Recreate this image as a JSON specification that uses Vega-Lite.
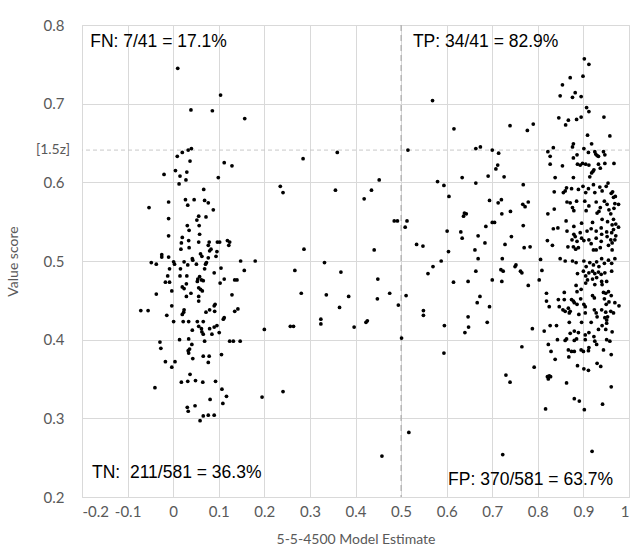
{
  "$schema": "https://vega.github.io/schema/vega-lite/v6.json",
  "width": 547,
  "height": 472,
  "autosize": {"type": "none"},
  "padding": {"left": 82, "top": 25, "right": 6, "bottom": 60},
  "background": "white",
  "config": {
    "view": {"stroke": "#d9d9d9"},
    "axis": {"labelFont": "Lato", "titleFont": "Lato", "labelColor": "#595959", "titleColor": "#595959", "labelFontSize": 15, "titleFontSize": 14, "titleFontWeight": "normal", "gridColor": "#d9d9d9", "gridWidth": 1, "domain": false, "ticks": false}
  },
  "datasets": {
    "pts": [
{"x":0.010,"y":0.745},{"x":0.104,"y":0.711},{"x":0.039,"y":0.692},{"x":0.086,"y":0.691},{"x":0.157,"y":0.681},{"x":0.033,"y":0.641},{"x":0.040,"y":0.643},{"x":0.020,"y":0.638},{"x":0.009,"y":0.633},{"x":0.037,"y":0.627},{"x":0.112,"y":0.625},{"x":0.129,"y":0.621},{"x":-0.020,"y":0.610},{"x":0.005,"y":0.615},{"x":0.015,"y":0.608},{"x":0.030,"y":0.613},{"x":0.028,"y":0.603},{"x":0.099,"y":0.606},{"x":0.013,"y":0.598},{"x":0.067,"y":0.591},{"x":-0.053,"y":0.568},{"x":-0.010,"y":0.575},{"x":0.027,"y":0.578},{"x":0.032,"y":0.571},{"x":0.046,"y":0.578},{"x":0.069,"y":0.577},{"x":0.077,"y":0.574},{"x":0.088,"y":0.565},{"x":-0.010,"y":0.554},{"x":0.056,"y":0.557},{"x":0.052,"y":0.552},{"x":0.072,"y":0.556},{"x":0.057,"y":0.545},{"x":0.031,"y":0.545},{"x":0.035,"y":0.539},{"x":-0.010,"y":0.532},{"x":0.058,"y":0.534},{"x":0.020,"y":0.530},{"x":0.018,"y":0.523},{"x":0.034,"y":0.526},{"x":0.056,"y":0.524},{"x":0.079,"y":0.524},{"x":0.077,"y":0.520},{"x":0.097,"y":0.524},{"x":0.102,"y":0.524},{"x":0.119,"y":0.526},{"x":0.124,"y":0.524},{"x":0.122,"y":0.520},{"x":0.017,"y":0.515},{"x":0.035,"y":0.517},{"x":0.060,"y":0.509},{"x":0.083,"y":0.515},{"x":0.080,"y":0.513},{"x":0.096,"y":0.512},{"x":-0.025,"y":0.508},{"x":-0.025,"y":0.505},{"x":-0.010,"y":0.505},{"x":0.042,"y":0.503},{"x":0.063,"y":0.506},{"x":0.077,"y":0.504},{"x":0.094,"y":0.506},
{"x":-0.048,"y":0.498},{"x":-0.037,"y":0.496},{"x":0.001,"y":0.499},{"x":0.003,"y":0.496},{"x":0.016,"y":0.490},{"x":0.024,"y":0.499},{"x":0.032,"y":0.495},{"x":0.043,"y":0.501},{"x":0.051,"y":0.496},{"x":0.071,"y":0.496},{"x":0.073,"y":0.498},{"x":0.069,"y":0.490},{"x":0.090,"y":0.485},{"x":0.105,"y":0.491},{"x":0.148,"y":0.500},{"x":0.156,"y":0.488},{"x":-0.008,"y":0.490},{"x":-0.012,"y":0.481},{"x":-0.017,"y":0.473},{"x":-0.008,"y":0.473},{"x":-0.003,"y":0.462},{"x":-0.037,"y":0.458},{"x":0.015,"y":0.481},{"x":0.030,"y":0.481},{"x":0.029,"y":0.471},{"x":0.020,"y":0.467},{"x":0.024,"y":0.465},{"x":0.039,"y":0.459},{"x":0.029,"y":0.455},{"x":0.053,"y":0.474},{"x":0.054,"y":0.477},{"x":0.058,"y":0.480},{"x":0.062,"y":0.476},{"x":0.056,"y":0.466},{"x":0.060,"y":0.464},{"x":0.064,"y":0.462},{"x":0.056,"y":0.449},{"x":0.056,"y":0.455},{"x":0.066,"y":0.475},{"x":0.112,"y":0.477},{"x":0.103,"y":0.472},{"x":0.135,"y":0.476},{"x":0.140,"y":0.476},{"x":0.129,"y":0.457},{"x":-0.071,"y":0.437},{"x":-0.055,"y":0.437},{"x":-0.014,"y":0.431},{"x":-0.003,"y":0.443},{"x":0.020,"y":0.432},{"x":0.023,"y":0.435},{"x":0.024,"y":0.438},{"x":0.001,"y":0.423},{"x":0.022,"y":0.423},{"x":0.034,"y":0.423},{"x":0.042,"y":0.412},{"x":0.053,"y":0.423},{"x":0.056,"y":0.417},{"x":0.062,"y":0.414},{"x":0.063,"y":0.410},{"x":0.066,"y":0.407},{"x":0.066,"y":0.423},{"x":0.072,"y":0.435},{"x":0.080,"y":0.438},{"x":0.090,"y":0.443},{"x":0.092,"y":0.445},{"x":0.091,"y":0.436},{"x":0.080,"y":0.414},{"x":0.090,"y":0.416},{"x":0.096,"y":0.418},{"x":0.101,"y":0.409},{"x":0.085,"y":0.407},{"x":0.110,"y":0.426},{"x":0.112,"y":0.428},{"x":0.135,"y":0.436},{"x":0.142,"y":0.439},{"x":-0.029,"y":0.397},{"x":-0.027,"y":0.389},{"x":0.014,"y":0.400},{"x":0.034,"y":0.401},{"x":0.041,"y":0.394},{"x":0.033,"y":0.386},{"x":0.034,"y":0.383},{"x":0.036,"y":0.388},{"x":0.043,"y":0.376},{"x":0.069,"y":0.398},{"x":0.066,"y":0.379},{"x":0.079,"y":0.379},{"x":0.077,"y":0.371},{"x":0.106,"y":0.381},{"x":0.124,"y":0.398},{"x":0.132,"y":0.398},{"x":0.147,"y":0.398},{"x":-0.017,"y":0.372},{"x":0.004,"y":0.372},{"x":-0.003,"y":0.365},{"x":0.037,"y":0.356},{"x":0.018,"y":0.346},{"x":0.032,"y":0.347},{"x":0.049,"y":0.348},{"x":0.065,"y":0.346},{"x":0.093,"y":0.347},{"x":-0.040,"y":0.339},{"x":0.107,"y":0.337},{"x":0.117,"y":0.328},{"x":0.081,"y":0.324},{"x":0.109,"y":0.319},{"x":0.031,"y":0.314},{"x":0.033,"y":0.309},{"x":0.048,"y":0.316},{"x":0.059,"y":0.297},{"x":0.066,"y":0.303},{"x":0.077,"y":0.304},{"x":0.090,"y":0.304},
{"x":0.515,"y":0.641},{"x":0.360,"y":0.638},{"x":0.285,"y":0.630},{"x":0.452,"y":0.603},{"x":0.235,"y":0.595},{"x":0.241,"y":0.587},{"x":0.356,"y":0.590},{"x":0.435,"y":0.590},{"x":0.419,"y":0.579},{"x":0.485,"y":0.551},{"x":0.492,"y":0.551},{"x":0.513,"y":0.551},{"x":0.509,"y":0.543},{"x":0.287,"y":0.515},{"x":0.441,"y":0.514},{"x":0.180,"y":0.500},{"x":0.332,"y":0.498},{"x":0.267,"y":0.488},{"x":0.368,"y":0.486},{"x":0.449,"y":0.477},{"x":0.281,"y":0.459},{"x":0.336,"y":0.457},{"x":0.385,"y":0.455},{"x":0.475,"y":0.459},{"x":0.511,"y":0.456},{"x":0.448,"y":0.452},{"x":0.365,"y":0.441},{"x":0.494,"y":0.444},{"x":0.324,"y":0.426},{"x":0.324,"y":0.420},{"x":0.257,"y":0.417},{"x":0.264,"y":0.417},{"x":0.200,"y":0.413},{"x":0.397,"y":0.416},{"x":0.423,"y":0.422},{"x":0.426,"y":0.424},{"x":0.501,"y":0.402},{"x":0.195,"y":0.327},{"x":0.241,"y":0.334},{"x":0.517,"y":0.282},{"x":0.458,"y":0.252},
{"x":0.569,"y":0.704},{"x":0.616,"y":0.668},{"x":0.739,"y":0.672},{"x":0.777,"y":0.666},{"x":0.664,"y":0.643},{"x":0.674,"y":0.645},{"x":0.700,"y":0.641},{"x":0.714,"y":0.637},{"x":0.712,"y":0.622},{"x":0.708,"y":0.617},{"x":0.691,"y":0.608},{"x":0.634,"y":0.606},{"x":0.726,"y":0.607},{"x":0.580,"y":0.601},{"x":0.594,"y":0.596},{"x":0.664,"y":0.599},{"x":0.605,"y":0.582},{"x":0.694,"y":0.577},{"x":0.713,"y":0.574},{"x":0.720,"y":0.578},{"x":0.639,"y":0.561},{"x":0.643,"y":0.560},{"x":0.637,"y":0.557},{"x":0.740,"y":0.563},{"x":0.721,"y":0.560},{"x":0.700,"y":0.549},{"x":0.705,"y":0.549},{"x":0.686,"y":0.544},{"x":0.601,"y":0.538},{"x":0.631,"y":0.537},{"x":0.634,"y":0.529},{"x":0.669,"y":0.532},{"x":0.742,"y":0.531},{"x":0.684,"y":0.523},{"x":0.728,"y":0.521},{"x":0.534,"y":0.521},{"x":0.548,"y":0.519},{"x":0.604,"y":0.512},{"x":0.662,"y":0.514},{"x":0.588,"y":0.500},{"x":0.669,"y":0.503},{"x":0.722,"y":0.503},{"x":0.570,"y":0.493},{"x":0.559,"y":0.484},{"x":0.664,"y":0.487},{"x":0.719,"y":0.489},{"x":0.724,"y":0.487},{"x":0.752,"y":0.495},{"x":0.762,"y":0.487},{"x":0.765,"y":0.485},{"x":0.615,"y":0.473},{"x":0.647,"y":0.474},{"x":0.700,"y":0.476},{"x":0.721,"y":0.474},{"x":0.673,"y":0.455},{"x":0.667,"y":0.447},{"x":0.694,"y":0.442},{"x":0.549,"y":0.437},{"x":0.549,"y":0.431},{"x":0.595,"y":0.418},{"x":0.647,"y":0.429},{"x":0.648,"y":0.416},{"x":0.640,"y":0.409},{"x":0.689,"y":0.422},{"x":0.594,"y":0.383},{"x":0.730,"y":0.355},{"x":0.739,"y":0.346},{"x":0.723,"y":0.254},
{"x":0.902,"y":0.757},{"x":0.912,"y":0.750},{"x":0.871,"y":0.733},{"x":0.899,"y":0.735},{"x":0.854,"y":0.724},{"x":0.849,"y":0.710},{"x":0.876,"y":0.708},{"x":0.882,"y":0.714},{"x":0.895,"y":0.709},{"x":0.907,"y":0.695},{"x":0.912,"y":0.690},{"x":0.790,"y":0.674},{"x":0.846,"y":0.682},{"x":0.867,"y":0.679},{"x":0.861,"y":0.673},{"x":0.885,"y":0.680},{"x":0.895,"y":0.683},{"x":0.945,"y":0.683},{"x":0.909,"y":0.660},{"x":0.958,"y":0.659},{"x":0.918,"y":0.649},{"x":0.878,"y":0.649},{"x":0.876,"y":0.645},{"x":0.834,"y":0.644},{"x":0.822,"y":0.639},{"x":0.827,"y":0.633},{"x":0.901,"y":0.643},{"x":0.911,"y":0.638},{"x":0.925,"y":0.639},{"x":0.930,"y":0.634},{"x":0.933,"y":0.633},{"x":0.927,"y":0.636},{"x":0.944,"y":0.639},{"x":0.947,"y":0.635},{"x":0.886,"y":0.635},{"x":0.878,"y":0.631},
{"x":0.827,"y":0.623},{"x":0.854,"y":0.621},{"x":0.887,"y":0.623},{"x":0.893,"y":0.622},{"x":0.898,"y":0.624},{"x":0.905,"y":0.623},{"x":0.912,"y":0.622},{"x":0.933,"y":0.623},{"x":0.947,"y":0.624},{"x":0.967,"y":0.624},{"x":0.923,"y":0.616},{"x":0.918,"y":0.612},{"x":0.914,"y":0.607},{"x":0.921,"y":0.614},{"x":0.937,"y":0.618},{"x":0.838,"y":0.606},{"x":0.878,"y":0.606},{"x":0.768,"y":0.597},{"x":0.954,"y":0.599},{"x":0.836,"y":0.588},{"x":0.856,"y":0.587},{"x":0.860,"y":0.589},{"x":0.863,"y":0.593},{"x":0.874,"y":0.592},{"x":0.889,"y":0.591},{"x":0.899,"y":0.595},{"x":0.905,"y":0.587},{"x":0.911,"y":0.592},{"x":0.922,"y":0.597},{"x":0.925,"y":0.587},{"x":0.936,"y":0.594},{"x":0.941,"y":0.589},{"x":0.950,"y":0.595},{"x":0.961,"y":0.586},{"x":0.964,"y":0.588},{"x":0.966,"y":0.581},{"x":0.970,"y":0.582},{"x":0.767,"y":0.572},{"x":0.779,"y":0.575},{"x":0.772,"y":0.569},{"x":0.822,"y":0.560},{"x":0.836,"y":0.566},{"x":0.864,"y":0.575},{"x":0.871,"y":0.574},{"x":0.885,"y":0.576},{"x":0.876,"y":0.568},{"x":0.879,"y":0.564},{"x":0.903,"y":0.576},{"x":0.906,"y":0.564},{"x":0.912,"y":0.570},{"x":0.928,"y":0.575},{"x":0.930,"y":0.561},{"x":0.934,"y":0.563},{"x":0.937,"y":0.568},{"x":0.946,"y":0.576},{"x":0.952,"y":0.572},{"x":0.956,"y":0.565},{"x":0.960,"y":0.560},{"x":0.967,"y":0.567},{"x":0.969,"y":0.573},{"x":0.977,"y":0.572},{"x":0.920,"y":0.549},{"x":0.941,"y":0.553},{"x":0.953,"y":0.550},{"x":0.966,"y":0.553},{"x":0.971,"y":0.547},{"x":0.963,"y":0.546},{"x":0.862,"y":0.551},{"x":0.879,"y":0.544},{"x":0.896,"y":0.548},{"x":0.917,"y":0.541},{"x":0.939,"y":0.542},{"x":0.966,"y":0.540},{"x":0.977,"y":0.543},{"x":0.962,"y":0.536},{"x":0.971,"y":0.532},{"x":0.768,"y":0.545},{"x":0.834,"y":0.541},{"x":0.844,"y":0.542},{"x":0.864,"y":0.538},{"x":0.879,"y":0.534},{"x":0.893,"y":0.536},{"x":0.908,"y":0.538},{"x":0.928,"y":0.538},{"x":0.940,"y":0.534},{"x":0.951,"y":0.537},{"x":0.821,"y":0.526},{"x":0.832,"y":0.520},{"x":0.875,"y":0.527},{"x":0.882,"y":0.531},{"x":0.886,"y":0.525},{"x":0.896,"y":0.529},{"x":0.901,"y":0.526},{"x":0.912,"y":0.527},{"x":0.917,"y":0.522},{"x":0.928,"y":0.529},{"x":0.939,"y":0.525},{"x":0.952,"y":0.531},{"x":0.960,"y":0.527},{"x":0.963,"y":0.523},{"x":0.969,"y":0.527},{"x":0.866,"y":0.518},{"x":0.878,"y":0.518},{"x":0.883,"y":0.515},{"x":0.889,"y":0.517},{"x":0.922,"y":0.514},{"x":0.928,"y":0.514},{"x":0.937,"y":0.517},{"x":0.955,"y":0.520},{"x":0.963,"y":0.514},{"x":0.770,"y":0.517},{"x":0.783,"y":0.518},{"x":0.806,"y":0.502},{"x":0.849,"y":0.503},{"x":0.860,"y":0.500},{"x":0.876,"y":0.500},{"x":0.884,"y":0.498},{"x":0.901,"y":0.500},{"x":0.906,"y":0.493},{"x":0.914,"y":0.498},{"x":0.922,"y":0.495},{"x":0.929,"y":0.499},{"x":0.934,"y":0.493},{"x":0.940,"y":0.503},{"x":0.946,"y":0.497},{"x":0.955,"y":0.501},{"x":0.962,"y":0.497},{"x":0.969,"y":0.503},{"x":0.750,"y":0.493},
{"x":0.809,"y":0.488},{"x":0.887,"y":0.484},{"x":0.900,"y":0.487},{"x":0.905,"y":0.481},{"x":0.912,"y":0.485},{"x":0.920,"y":0.487},{"x":0.925,"y":0.484},{"x":0.933,"y":0.486},{"x":0.939,"y":0.483},{"x":0.947,"y":0.485},{"x":0.962,"y":0.487},{"x":0.909,"y":0.476},{"x":0.920,"y":0.477},{"x":0.929,"y":0.479},{"x":0.940,"y":0.474},{"x":0.951,"y":0.474},{"x":0.905,"y":0.472},{"x":0.925,"y":0.470},{"x":0.941,"y":0.470},{"x":0.779,"y":0.469},{"x":0.803,"y":0.476},{"x":0.819,"y":0.459},{"x":0.819,"y":0.449},{"x":0.825,"y":0.442},{"x":0.858,"y":0.460},{"x":0.845,"y":0.451},{"x":0.858,"y":0.451},{"x":0.874,"y":0.451},{"x":0.880,"y":0.447},{"x":0.884,"y":0.469},{"x":0.886,"y":0.461},{"x":0.895,"y":0.464},{"x":0.886,"y":0.445},{"x":0.894,"y":0.452},{"x":0.847,"y":0.442},{"x":0.855,"y":0.438},{"x":0.860,"y":0.436},{"x":0.867,"y":0.440},{"x":0.871,"y":0.436},{"x":0.869,"y":0.434},{"x":0.878,"y":0.449},{"x":0.901,"y":0.445},{"x":0.904,"y":0.442},{"x":0.920,"y":0.456},{"x":0.924,"y":0.453},{"x":0.944,"y":0.460},{"x":0.949,"y":0.459},{"x":0.955,"y":0.461},{"x":0.961,"y":0.456},{"x":0.946,"y":0.452},{"x":0.956,"y":0.448},{"x":0.969,"y":0.447},{"x":0.978,"y":0.443},{"x":0.950,"y":0.445},{"x":0.960,"y":0.436},{"x":0.949,"y":0.435},{"x":0.966,"y":0.434},{"x":0.947,"y":0.428},{"x":0.951,"y":0.425},{"x":0.951,"y":0.421},{"x":0.953,"y":0.429},{"x":0.941,"y":0.418},{"x":0.924,"y":0.438},{"x":0.928,"y":0.434},{"x":0.930,"y":0.429},{"x":0.904,"y":0.434},{"x":0.896,"y":0.422},{"x":0.917,"y":0.422},{"x":0.890,"y":0.432},{"x":0.940,"y":0.438},{"x":0.869,"y":0.422},{"x":0.827,"y":0.418},{"x":0.841,"y":0.418},{"x":0.814,"y":0.411},{"x":0.788,"y":0.414},{"x":0.871,"y":0.408},{"x":0.880,"y":0.411},{"x":0.889,"y":0.409},{"x":0.863,"y":0.401},{"x":0.860,"y":0.399},{"x":0.880,"y":0.399},{"x":0.885,"y":0.401},{"x":0.904,"y":0.406},{"x":0.904,"y":0.400},{"x":0.912,"y":0.409},{"x":0.923,"y":0.404},{"x":0.933,"y":0.413},{"x":0.949,"y":0.413},{"x":0.963,"y":0.410},{"x":0.951,"y":0.400},{"x":0.958,"y":0.398},{"x":0.925,"y":0.398},{"x":0.823,"y":0.394},{"x":0.843,"y":0.400},{"x":0.867,"y":0.387},{"x":0.874,"y":0.385},{"x":0.880,"y":0.385},{"x":0.895,"y":0.387},{"x":0.900,"y":0.385},{"x":0.911,"y":0.386},{"x":0.912,"y":0.390},{"x":0.929,"y":0.394},{"x":0.944,"y":0.387},{"x":0.961,"y":0.381},{"x":0.829,"y":0.385},{"x":0.765,"y":0.391},{"x":0.838,"y":0.375},{"x":0.868,"y":0.378},{"x":0.887,"y":0.367},{"x":0.901,"y":0.363},{"x":0.911,"y":0.361},{"x":0.930,"y":0.370},{"x":0.938,"y":0.366},{"x":0.792,"y":0.365},{"x":0.821,"y":0.353},{"x":0.825,"y":0.354},{"x":0.828,"y":0.353},{"x":0.823,"y":0.350},
{"x":0.863,"y":0.345},{"x":0.961,"y":0.340},{"x":0.880,"y":0.325},{"x":0.891,"y":0.322},{"x":0.817,"y":0.312},{"x":0.902,"y":0.311},{"x":0.942,"y":0.318},{"x":0.919,"y":0.258}
    ],
    "notesL": [
      {"x": -0.182, "y": 0.778, "t": "FN: 7/41 = 17.1%"},
      {"x": 0.526, "y": 0.778, "t": "TP: 34/41 = 82.9%"},
      {"x": -0.178, "y": 0.231, "t": "TN: \u00a0211/581 = 36.3%"}
    ],
    "notesR": [
      {"x": 0.965, "y": 0.222, "t": "FP: 370/581 = 63.7%"}
    ]
  },
  "layer": [
    {
      "data": {"values": [{"x": 0.5}]},
      "mark": {"type": "rule", "color": "#a6a6a6", "strokeWidth": 1.1, "strokeDash": [6, 4]},
      "encoding": {
        "x": {"field": "x", "type": "quantitative", "scale": {"domain": [-0.2, 1], "nice": false, "zero": false},
          "axis": {"values": [-0.2, -0.1, 0, 0.1, 0.2, 0.3, 0.4, 0.5, 0.6, 0.7, 0.8, 0.9, 1], "labelExpr": "'' + datum.value", "labelPadding": 7, "title": "5-5-4500 Model Estimate", "titlePadding": 13}}
      }
    },
    {
      "data": {"values": [{"y": 0.641}]},
      "mark": {"type": "rule", "color": "#c8c8c8", "strokeWidth": 1, "strokeDash": [4, 3]},
      "encoding": {
        "y": {"field": "y", "type": "quantitative", "scale": {"domain": [0.2, 0.8], "nice": false, "zero": false},
          "axis": {"values": [0.2, 0.3, 0.4, 0.5, 0.6, 0.7, 0.8], "format": ".1f", "labelPadding": 18, "title": "Value score", "titlePadding": 23}}
      }
    },
    {
      "data": {"name": "pts"},
      "mark": {"type": "circle", "color": "#000000", "opacity": 1, "size": 14},
      "encoding": {
        "x": {"field": "x", "type": "quantitative"},
        "y": {"field": "y", "type": "quantitative"}
      }
    },
    {
      "data": {"name": "notesL"},
      "mark": {"type": "text", "font": "Liberation Sans", "fontSize": 17.5, "color": "#000000", "baseline": "middle", "align": "left"},
      "encoding": {
        "x": {"field": "x", "type": "quantitative"},
        "y": {"field": "y", "type": "quantitative"},
        "text": {"field": "t"}
      }
    },
    {
      "data": {"name": "notesR"},
      "mark": {"type": "text", "font": "Liberation Sans", "fontSize": 17.5, "color": "#000000", "baseline": "middle", "align": "right"},
      "encoding": {
        "x": {"field": "x", "type": "quantitative"},
        "y": {"field": "y", "type": "quantitative"},
        "text": {"field": "t"}
      }
    },
    {
      "data": {"values": [{"x": -0.2, "y": 0.641, "t": "[1.5z]"}]},
      "mark": {"type": "text", "font": "Lato", "fontSize": 14, "color": "#595959", "align": "right", "baseline": "middle", "dx": -12},
      "encoding": {
        "x": {"field": "x", "type": "quantitative"},
        "y": {"field": "y", "type": "quantitative"},
        "text": {"field": "t"}
      }
    }
  ]
}
